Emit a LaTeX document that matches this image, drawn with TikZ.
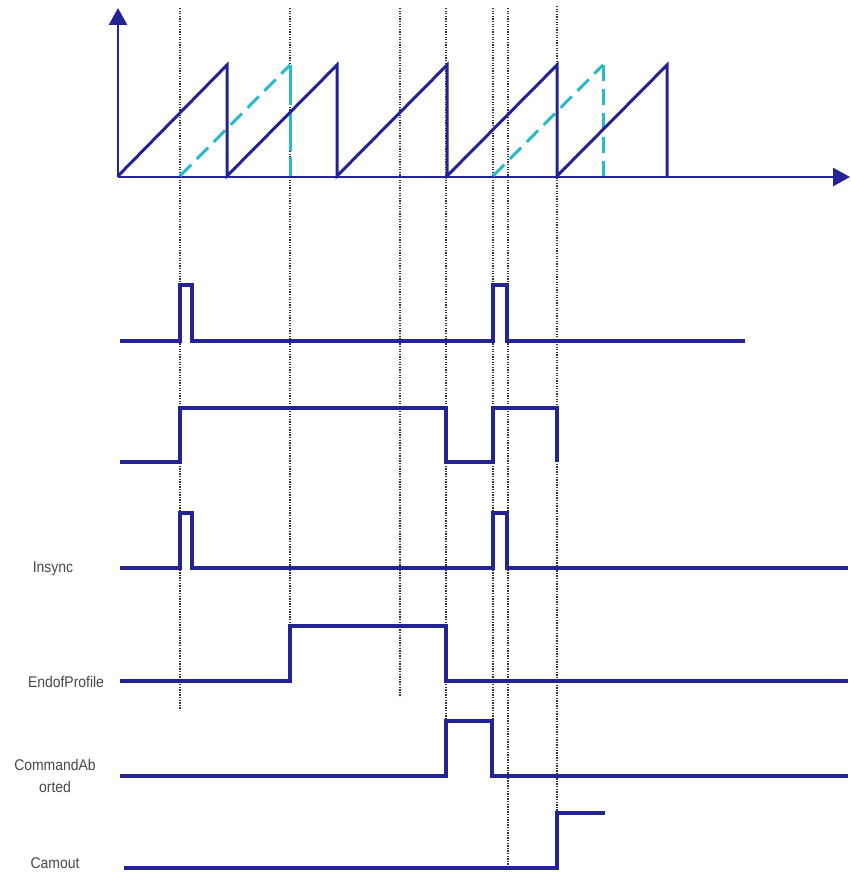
\documentclass[tikz,border=0pt]{standalone}
\usepackage{fontspec}
\setmainfont{Liberation Sans}[FakeStretch=0.9]
\usetikzlibrary{arrows.meta}
\definecolor{sig}{RGB}{35,35,150}
\definecolor{cyanl}{RGB}{40,185,205}
\begin{document}
\begin{tikzpicture}[x=1pt,y=-1pt,
  sigline/.style={draw=sig,line width=3.2pt,line join=miter},
  axisline/.style={draw=sig,line width=2.8pt,-{Triangle[length=17pt,width=18pt]}},
  saw/.style={draw=sig,line width=3pt,line join=miter},
  dsaw/.style={draw=cyanl,line width=3pt,dash pattern=on 16pt off 8pt},
  guide/.style={draw=black!80,line width=1.2pt,dash pattern=on 1.3pt off 1.3pt},
  lbl/.style={font=\fontsize{15.5}{17}\selectfont,text=black!72,align=center,inner sep=0pt}]
\useasboundingbox (0,0) rectangle (851,877);
% guide lines
\draw[guide] (180,8) -- (180,710);
\draw[guide] (290,8) -- (290,626);
\draw[guide] (400,8) -- (400,697);
\draw[guide] (446,8) -- (446,721);
\draw[guide] (493,8) -- (493,776);
\draw[guide] (508,8) -- (508,870);
\draw[guide] (557,6) -- (557,813);
% axes
\coordinate (O) at (118,177);
\coordinate (ytop) at (118,8);
\coordinate (xend) at (850,177);
\draw[axisline] (O) -- (ytop);
\draw[axisline] (O) -- (xend);
% cyan dashed sawtooth
\draw[dsaw] (180,176) -- (290,65);
\draw[dsaw,dash pattern=on 40pt off 6pt] (290,65) -- (290,176);
\draw[dsaw] (493,176) -- (603,65);
\draw[dsaw] (603,65) -- (603,176);
% solid sawtooth
\draw[saw] (118,176) -- (227,65) -- (227,176) -- (337,65) -- (337,176) -- (447,65) -- (447,176) -- (557,65) -- (557,176) -- (667,65) -- (667,176);
% signal 1
\draw[sigline] (120,341) -- (180,341) -- (180,285) -- (192,285) -- (192,341) -- (493,341) -- (493,285) -- (507,285) -- (507,341) -- (745,341);
% signal 2
\draw[sigline] (120,462) -- (180,462) -- (180,408) -- (446,408) -- (446,462) -- (493,462) -- (493,408) -- (557,408) -- (557,462);
% Insync
\draw[sigline] (120,568) -- (180,568) -- (180,513) -- (192,513) -- (192,568) -- (493,568) -- (493,513) -- (507,513) -- (507,568) -- (848,568);
% EndofProfile
\draw[sigline] (120,681) -- (290,681) -- (290,626) -- (446,626) -- (446,681) -- (848,681);
% CommandAborted
\draw[sigline] (120,776) -- (446,776) -- (446,721) -- (492,721) -- (492,776) -- (848,776);
% Camout
\draw[sigline] (124,868) -- (557,868) -- (557,813) -- (605,813);
% labels
\node[lbl] (l1) at (53,569) {Insync};
\node[lbl] (l2) at (66,682) {EndofProfile};
\node[lbl] (l3) at (55,765) {CommandAb};
\node[lbl] (l4) at (55,787) {orted};
\node[lbl] (l5) at (55,863) {Camout};
\end{tikzpicture}
\end{document}
